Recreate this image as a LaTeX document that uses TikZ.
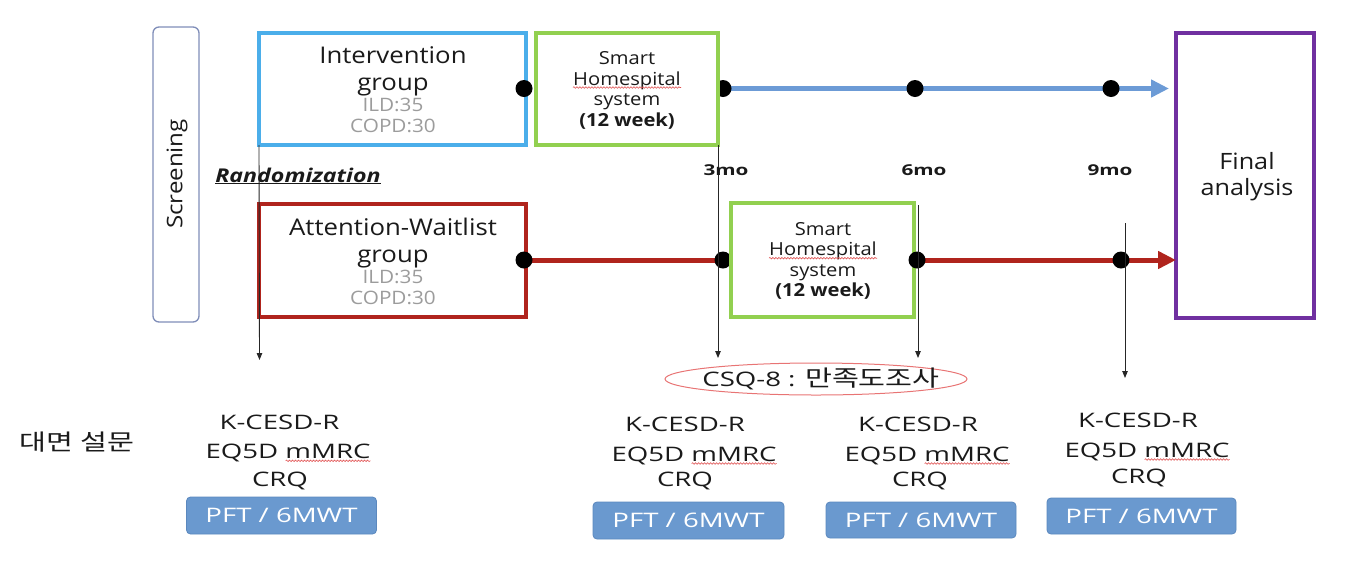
\documentclass[tikz,border=0pt]{standalone}
\usepackage{fontspec}
\setmainfont{Open Sans}
\newfontfamily\topf{Open Sans}[FakeStretch=1.12]
\newfontfamily\lowf{Open Sans}[FakeStretch=1.38]
\newfontfamily\randf{Open Sans}[FakeStretch=1.22]
\newfontfamily\krf{Noto Sans CJK KR}[FakeStretch=1.3]
\usetikzlibrary{arrows.meta,shapes.geometric,decorations.pathmorphing}
\definecolor{ibl}{HTML}{4BAEEA}
\definecolor{grn}{HTML}{92D050}
\definecolor{pur}{HTML}{7030A0}
\definecolor{dred}{HTML}{B0241D}
\definecolor{lbl}{HTML}{6C9BD6}
\definecolor{pft}{HTML}{6A99CF}
\definecolor{pftedge}{HTML}{5B88BE}
\definecolor{scr}{HTML}{7F8DB8}
\definecolor{gtx}{HTML}{9C9C9C}
\definecolor{ellc}{HTML}{E87474}
\definecolor{txt}{HTML}{1A1A1A}
\definecolor{spellred}{HTML}{E05050}
\newcommand\fsz[1]{\fontsize{#1}{#1}\selectfont}
\newlength\mmrcw
\begin{document}
\settowidth\mmrcw{\lowf\fsz{20}mMRC}
\begin{tikzpicture}[x=1pt,y=-1pt,
  grpbox/.style={draw, fill=white, line width=3.5pt, inner sep=0pt, outer sep=0pt},
  dot/.style={circle, fill=black, inner sep=0pt, minimum size=17pt},
  thinarr/.style={line width=0.9pt, draw=black!85, -{Triangle[length=7pt,width=5.5pt]}},
  big/.style={anchor=base, font=\topf\fsz{23}, text=txt, inner sep=0pt},
  small/.style={anchor=base, font=\topf\fsz{18.5}, text=gtx, inner sep=0pt},
  sh/.style={anchor=base, font=\topf\fsz{18}, text=txt, inner sep=0pt},
  lowt/.style={anchor=base, font=\lowf\fsz{20}, text=txt, inner sep=0pt},
  mo/.style={anchor=base, font=\lowf\bfseries\fsz{15}, text=txt, inner sep=0pt},
  pftbox/.style={draw=pftedge, fill=pft, rounded corners=4pt, line width=0.8pt, inner sep=0pt, outer sep=0pt, text=white, font=\lowf\fsz{20}},
  wave/.style={draw=spellred, line width=0.6pt, decorate, decoration={snake, amplitude=0.8pt, segment length=3pt}}
]
\useasboundingbox (0,0) rectangle (1358,566);

% screening
\node[draw=scr, line width=1.3pt, rounded corners=6pt, minimum width=46pt, minimum height=295pt, inner sep=0pt] (scrbox) at (176,174.5) {};
\node[rotate=90, font=\topf\fsz{21.5}, text=txt] (scrtxt) at (177,174) {Screening};

% group boxes
\node[grpbox, draw=ibl, line width=4pt, minimum width=267pt, minimum height=112pt] (ig) at (392.5,89) {};
\node[grpbox, draw=dred, minimum width=267pt, minimum height=113pt] (ag) at (392.5,260.5) {};
\node[grpbox, draw=pur, minimum width=138pt, minimum height=285pt] (fa) at (1245,175.5) {};

% timelines
\coordinate (bt) at (1169,88.5);
\coordinate (e1) at (524,260);
\coordinate (b2) at (723,88.5);
\draw[line width=5pt, dred, -{Triangle[length=18pt,width=17pt]}] (e1) -- (fa.west |- e1);
\draw[line width=5pt, lbl, -{Triangle[length=18pt,width=17pt]}] (b2) -- (bt);
\node[dot] (d1) at (524,88.5) {};
\node[dot] (d2) at (b2) {};
\node[dot] (d3) at (915,88.5) {};
\node[dot] (d4) at (1111,88.5) {};
\node[dot] (r1) at (e1) {};
\node[dot] (r2) at (723,260) {};
\node[dot] (r4) at (1121,260) {};

% green boxes
\node[grpbox, draw=grn, minimum width=182pt, minimum height=112pt] (g1) at (627,89) {};
\node[grpbox, draw=grn, minimum width=183pt, minimum height=114pt] (g2) at (822.5,260) {};
\node[dot] (r3) at (917,260) {};

% thin arrows
\coordinate (a0) at (259.5,360);
\coordinate (a3) at (718,358);
\coordinate (s6) at (918,205);
\coordinate (a6) at (918,358);
\coordinate (s9) at (1125,223);
\coordinate (a9) at (1125,378);
\draw[thinarr] (ig.south west) -- (a0);
\draw[thinarr] (g1.south east) -- (a3);
\draw[thinarr] (s6) -- (a6);
\draw[thinarr] (s9) -- (a9);

% texts in boxes
\node[big] (it1) at (393,63.3) {Intervention};
\node[big] (it2) at (393,90) {group};
\node[small] (it3) at (393,111.7) {ILD:35};
\node[small] (it4) at (393,132) {COPD:30};
\node[big] (at1) at (393,235) {Attention-Waitlist};
\node[big] (at2) at (393,262.7) {group};
\node[small] (at3) at (393,283.3) {ILD:35};
\node[small] (at4) at (393,304.3) {COPD:30};
\node[sh] (ga1) at (627,64) {Smart};
\node[sh] (ga2) at (627,85) {Homespital};
\node[sh] (ga3) at (627,105.7) {system};
\node[sh, font=\topf\bfseries\fsz{18}] (ga4) at (627,126) {(12 week)};
\node[sh] (gb1) at (823,235) {Smart};
\node[sh] (gb2) at (823,255.7) {Homespital};
\node[sh] (gb3) at (823,276) {system};
\node[sh, font=\topf\bfseries\fsz{18}] (gb4) at (823,296.7) {(12 week)};
\draw[wave] ([yshift=-2.5pt]ga2.base west) -- ([yshift=-2.5pt]ga2.base east);
\draw[wave] ([yshift=-2.5pt]gb2.base west) -- ([yshift=-2.5pt]gb2.base east);
\node[big, font=\topf\fsz{22.5}] (fa1) at (1247,169) {Final};
\node[big, font=\topf\fsz{22.5}] (fa2) at (1247,195) {analysis};

\node[anchor=base, font=\randf\bfseries\itshape\fsz{19}, text=txt, inner sep=0pt] (rand) at (298,182) {\underline{Randomization}};
\node[mo] (m3) at (726,175) {3mo};
\node[mo] (m6) at (924,175) {6mo};
\node[mo] (m9) at (1110,175) {9mo};

% CSQ ellipse
\node[ellipse, draw=ellc, line width=1pt, minimum width=302pt, minimum height=32pt, inner sep=0pt] (csq) at (816,379) {};
\node[font=\lowf\fsz{20}, text=txt, inner sep=0pt] (csqt) at (821,379) {CSQ-8 : {\krf\fsz{22.5}만족도조사}};

\node[font=\krf\fsz{22.5}, text=txt] (kr) at (77,442) {대면 설문};

% block 1
\node[lowt] (b1a) at (279.5,429.3) {K-CESD-R};
\node[lowt] (b1b) at (288,458.3) {EQ5D mMRC};
\node[lowt] (b1c) at (280,486) {CRQ};
\node[pftbox, minimum width=190pt, minimum height=37pt] (p1) at (281.5,515.5) {PFT / 6MWT};
% block 2
\node[lowt] (b2a) at (685,431.7) {K-CESD-R};
\node[lowt] (b2b) at (694,461) {EQ5D mMRC};
\node[lowt] (b2c) at (685,486.7) {CRQ};
\node[pftbox, minimum width=191pt, minimum height=37pt] (p2) at (688.5,520.5) {PFT / 6MWT};
% block 3
\node[lowt] (b3a) at (918,431.7) {K-CESD-R};
\node[lowt] (b3b) at (927,461) {EQ5D mMRC};
\node[lowt] (b3c) at (920,486.7) {CRQ};
\node[pftbox, minimum width=190pt, minimum height=36pt] (p3) at (921,520) {PFT / 6MWT};
% block 4
\node[lowt] (b4a) at (1138,427.7) {K-CESD-R};
\node[lowt] (b4b) at (1147,457) {EQ5D mMRC};
\node[lowt] (b4c) at (1139,483) {CRQ};
\node[pftbox, minimum width=189pt, minimum height=36pt] (p4) at (1141.5,516) {PFT / 6MWT};
\foreach \n in {b1b,b2b,b3b,b4b}{
  \draw[wave] ([xshift=-\mmrcw, yshift=-2.5pt]\n.base east) -- ([yshift=-2.5pt]\n.base east);
}
\end{tikzpicture}
\end{document}
